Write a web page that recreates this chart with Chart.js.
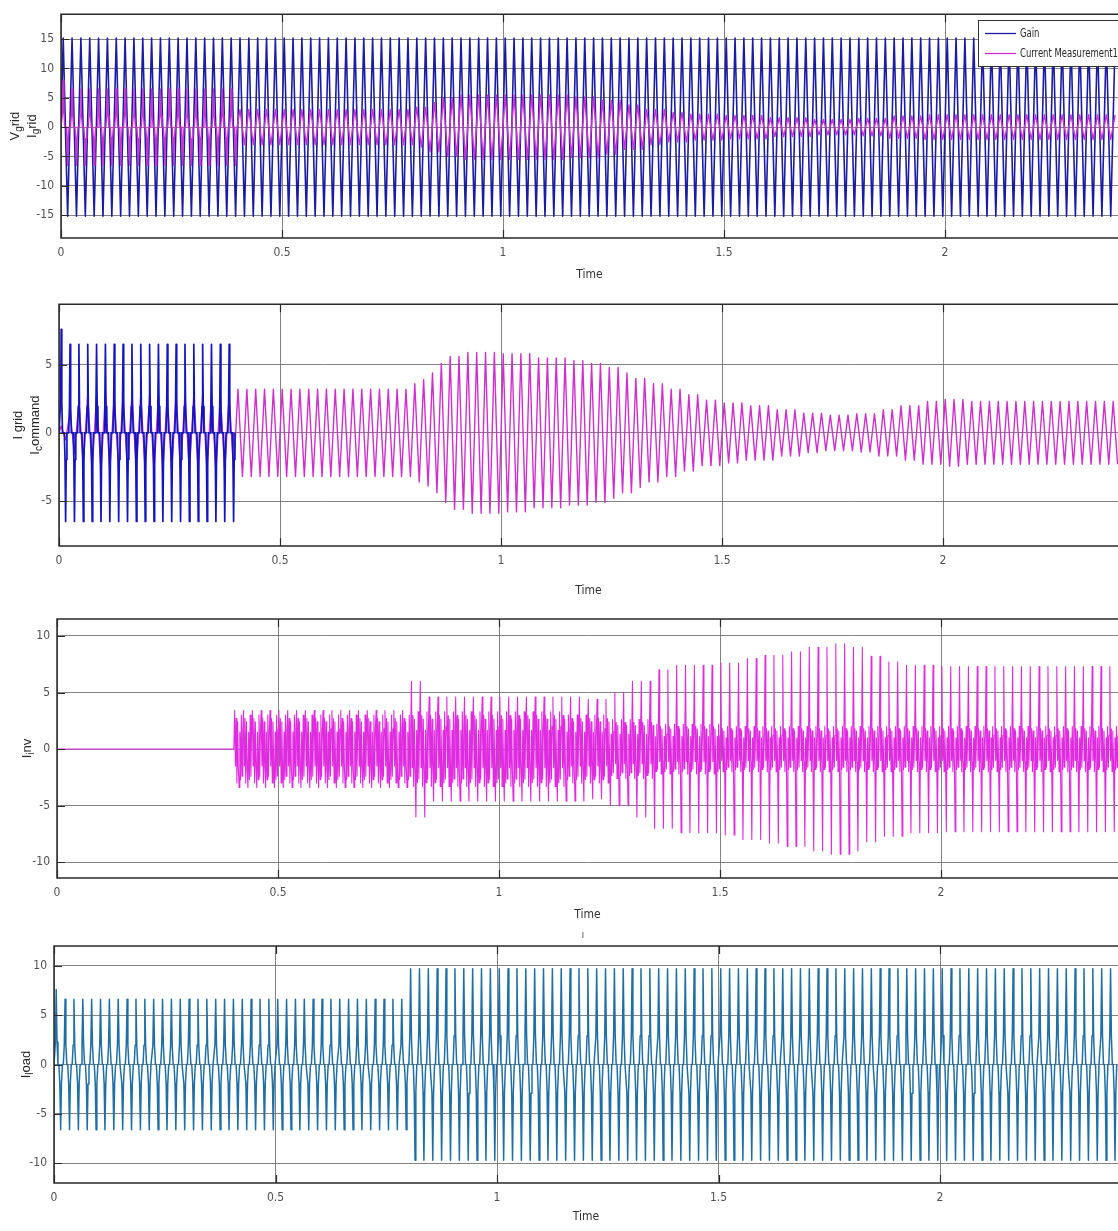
<!DOCTYPE html>
<html>
<head>
<meta charset="utf-8">
<script src="https://cdn.jsdelivr.net/npm/chart.js@4.4.0/dist/chart.umd.min.js"></script>
<style>
    body { margin: 0; background: #fff; }
    #wrap { position: relative; width: 1118px; height: 1231px; overflow: hidden; background: #fff; }
    canvas { position: absolute; left: 0; }
</style>
</head>
<body>
<div id="wrap">
    <canvas id="c1" width="1118" height="290" style="top:0px"></canvas>
    <canvas id="c2" width="1118" height="310" style="top:290px"></canvas>
    <canvas id="c3" width="1118" height="330" style="top:600px"></canvas>
    <canvas id="c4" width="1118" height="301" style="top:930px"></canvas>
</div>
<script>
// values: each peak holds from its time until the next one
const freqGrid = 50;
const tickX = ['0', '0.5', '1', '1.5', '2'];

// panel 1 - Gain / Current Measurement1
const gainT = [0];
const gainPeak = [15.2];
const measT = [0, 0.015, 0.4, 0.8, 0.83, 0.86, 0.9, 1.15, 1.22, 1.27, 1.32, 1.37, 1.42, 1.5, 1.6, 1.7, 1.8, 1.87, 1.95];
const measPeak = [8.0, 6.5, 3.0, 3.4, 4.2, 5.0, 5.5, 5.2, 4.6, 3.8, 3.0, 2.5, 2.2, 2.0, 1.6, 1.3, 1.5, 1.9, 2.1];

// panel 2 - I grid / I command
const cmdT = [0, 0.015];
const cmdPeak = [7.6, 6.5];
const gridT = [0, 0.02, 0.04, 0.06, 0.4, 0.8, 0.82, 0.84, 0.86, 0.88, 0.92, 1.0, 1.07, 1.15, 1.2, 1.24, 1.27, 1.3, 1.33, 1.37, 1.41, 1.45, 1.5, 1.55, 1.62, 1.68, 1.73, 1.8, 1.85, 1.9, 1.95, 2.0, 2.05];
const gridPeak = [0.5, 1.5, 2.3, 2.8, 3.2, 3.6, 3.9, 4.4, 5.1, 5.6, 5.9, 5.8, 5.5, 5.3, 5.1, 4.8, 4.4, 4.0, 3.6, 3.2, 2.8, 2.4, 2.2, 2.0, 1.7, 1.45, 1.3, 1.4, 1.7, 2.0, 2.3, 2.45, 2.3];

// panel 3 - I inv (big peaks and the dense band between them)
const invT = [0.4, 0.8, 0.835, 1.2, 1.25, 1.3, 1.35, 1.4, 1.5, 1.55, 1.6, 1.65, 1.7, 1.75, 1.8, 1.83, 1.87, 1.92, 2.0];
const invPeak = [3.4, 6.0, 4.6, 4.4, 5.0, 6.0, 7.0, 7.4, 7.6, 8.0, 8.3, 8.6, 9.0, 9.3, 9.0, 8.2, 7.7, 7.4, 7.3];
const invBandT = [0.4, 0.8, 1.15, 1.25, 1.35, 1.5];
const invBandPeak = [3.0, 3.3, 3.0, 2.6, 2.2, 2.0];
const invBandPattern = [-0.5, 0.9, -1.0, 0.8, -0.6];

// panel 4 - I load
const loadT = [0, 0.015, 0.8];
const loadPeak = [7.6, 6.6, 9.7];

const half = 0.5 / freqGrid;

function peakAt(ts, vs, t) {
    let v = vs[0];
    for (let i = 0; i < ts.length; i++) {
        if (t >= ts[i]) v = vs[i];
    }
    return v;
}

function sineWave(ts, vs, t0, t1, phase) {
    const pts = [{ x: t0, y: 0 }];
    for (let k = 0; ; k++) {
        const t = t0 + phase + k * half;
        if (t > t1) break;
        const s = k % 2 === 0 ? 1 : -1;
        pts.push({ x: t, y: s * peakAt(ts, vs, t) });
    }
    return pts;
}

// spike shaped pulses with a flat part at zero between them
function pulseWave(ts, vs, t0, t1, phase, width) {
    const pts = [{ x: t0, y: 0 }];
    const w = width * half / 2;
    for (let k = 0; ; k++) {
        const t = t0 + phase + k * half;
        if (t > t1) break;
        const s = k % 2 === 0 ? 1 : -1;
        const p = s * peakAt(ts, vs, t);
        pts.push({ x: t - w, y: 0 }, { x: t - w * 0.45, y: p * 0.3 }, { x: t, y: p },
            { x: t + w * 0.45, y: p * 0.3 }, { x: t + w, y: 0 });
    }
    return pts;
}

function denseWave(ts, vs, bts, bvs, t0, t1, phase) {
    const pts = [{ x: t0, y: 0 }];
    const n = invBandPattern.length;
    for (let k = 0; ; k++) {
        const t = t0 + phase + k * half;
        if (t > t1) break;
        const s = k % 2 === 0 ? 1 : -1;
        pts.push({ x: t, y: s * peakAt(ts, vs, t) });
        for (let j = 0; j < n; j++) {
            const tj = t + (j + 1) / (n + 1) * half;
            pts.push({ x: tj, y: s * invBandPattern[j] * peakAt(bts, bvs, tj) });
        }
    }
    return pts;
}

const tickFont = { family: "'Liberation Sans Narrow', 'DejaVu Sans Condensed', 'Arial Narrow', sans-serif", size: 12 };
const tickColor = '#505050';
const gridColor = 'rgba(100,100,100,0.8)';

const framePlugin = {
    id: 'frame',
    afterDraw(chart) {
        const { ctx, chartArea: a, scales } = chart;
        ctx.save();
        ctx.strokeStyle = '#2a2a2a';
        ctx.lineWidth = 1.5;
        ctx.beginPath();
        ctx.moveTo(chart.width, a.top);
        ctx.lineTo(a.left, a.top);
        ctx.lineTo(a.left, a.bottom);
        ctx.lineTo(chart.width, a.bottom);
        ctx.stroke();
        ctx.lineWidth = 1.2;
        ctx.beginPath();
        scales.y.ticks.forEach(t => {
            const y = Math.round(scales.y.getPixelForValue(t.value)) + 0.5;
            ctx.moveTo(a.left, y);
            ctx.lineTo(a.left + 8, y);
        });
        scales.x.ticks.forEach(t => {
            const x = Math.round(scales.x.getPixelForValue(t.value)) + 0.5;
            ctx.moveTo(x, a.bottom);
            ctx.lineTo(x, a.bottom - 8);
            ctx.moveTo(x, a.top);
            ctx.lineTo(x, a.top + 8);
        });
        ctx.stroke();
        ctx.restore();
    }
};

function yLabelPlugin(lines, xs) {
    return {
        id: 'ylab',
        afterDraw(chart) {
            const ctx = chart.ctx;
            const a = chart.chartArea;
            const cy = (a.top + a.bottom) / 2;
            const big = "13px 'Liberation Sans', Arial, sans-serif";
            const small = "10px 'Liberation Sans', Arial, sans-serif";
            lines.forEach((segs, i) => {
                ctx.save();
                ctx.translate(xs[i], cy);
                ctx.rotate(-Math.PI / 2);
                ctx.textBaseline = 'middle';
                ctx.textAlign = 'left';
                ctx.fillStyle = '#262626';
                let w = 0;
                segs.forEach(sg => {
                    ctx.font = sg[1] ? small : big;
                    w += ctx.measureText(sg[0]).width;
                });
                let x = -w / 2;
                segs.forEach(sg => {
                    ctx.font = sg[1] ? small : big;
                    ctx.fillText(sg[0], x, sg[1] ? 4 : 0);
                    x += ctx.measureText(sg[0]).width;
                });
                ctx.restore();
            });
        }
    };
}

const legendPlugin = {
    id: 'scopeLegend',
    afterDraw(chart) {
        const ctx = chart.ctx;
        const items = [chart.data.datasets[1], chart.data.datasets[0]];
        ctx.save();
        ctx.fillStyle = '#fff';
        ctx.fillRect(978, 20, 160, 46);
        ctx.strokeStyle = '#333';
        ctx.lineWidth = 1;
        ctx.strokeRect(978.5, 20.5, 160, 46);
        ctx.font = "12px 'Liberation Sans Narrow', 'DejaVu Sans Condensed', sans-serif";
        ctx.textBaseline = 'middle';
        // squeeze the text so the long label ends at the picture edge like the scope does
        let widest = 0;
        items.forEach(ds => { widest = Math.max(widest, ctx.measureText(ds.label).width); });
        const squeeze = Math.min(1, 98 / widest);
        items.forEach((ds, i) => {
            const y = 33.5 + i * 20;
            ctx.strokeStyle = ds.borderColor;
            ctx.lineWidth = 1.3;
            ctx.beginPath();
            ctx.moveTo(985, y);
            ctx.lineTo(1016, y);
            ctx.stroke();
            ctx.fillStyle = '#262626';
            ctx.save();
            ctx.translate(1020, y);
            ctx.scale(squeeze, 1);
            ctx.fillText(ds.label, 0, 0);
            ctx.restore();
        });
        ctx.restore();
    }
};

function makeChart(id, cfg) {
    return new Chart(document.getElementById(id), {
        type: 'line',
        data: { datasets: cfg.datasets },
        options: {
            responsive: false,
            animation: false,
            events: [],
            layout: { padding: { top: cfg.top, right: 0, left: 0, bottom: 0 } },
            elements: {
                point: { radius: 0 },
                line: { borderWidth: 1.4, tension: 0, borderJoinStyle: 'round' }
            },
            plugins: { legend: { display: false }, tooltip: { enabled: false } },
            scales: {
                x: {
                    type: 'linear',
                    min: 0,
                    max: cfg.xMax,
                    afterFit: s => { s.height = cfg.xh; },
                    ticks: {
                        stepSize: 0.5, includeBounds: false, autoSkip: false, maxRotation: 0,
                        padding: 8, color: tickColor, font: tickFont,
                        callback: v => tickX[Math.round(v * 2)]
                    },
                    grid: { color: gridColor, drawTicks: false, lineWidth: 1 },
                    border: { display: false },
                    title: {
                        display: true, text: 'Time', color: '#333',
                        font: tickFont, padding: { top: 0, bottom: cfg.tb }
                    }
                },
                y: {
                    min: cfg.yMin,
                    max: cfg.yMax,
                    afterFit: s => { s.width = cfg.left; },
                    ticks: {
                        stepSize: 5, includeBounds: false, padding: 7,
                        color: tickColor, font: tickFont
                    },
                    grid: { color: gridColor, drawTicks: false, lineWidth: 1 },
                    border: { display: false }
                }
            }
        },
        plugins: [framePlugin, yLabelPlugin(cfg.ylab, cfg.ylabX)].concat(cfg.extra || [])
    });
}

// panel 1
const xMax1 = (1118 - 61) / 442;
const measData = pulseWave(measT, measPeak, 0, 0.4, 0.005, 0.7)
    .concat(sineWave(measT, measPeak, 0.4, xMax1, 0.005));
makeChart('c1', {
    top: 4, xh: 52, tb: 8, left: 61, xMax: xMax1, yMin: -18.9, yMax: 19.25,
    ylab: [[['V', 0], ['g', 1], ['rid', 0]], [['I', 0], ['g', 1], ['rid', 0]]],
    ylabX: [15, 32],
    extra: [legendPlugin],
    datasets: [
        { label: 'Current Measurement1', data: measData, borderColor: '#d02fd0', borderWidth: 1.4, order: 0 },
        { label: 'Gain', data: sineWave(gainT, gainPeak, 0, xMax1, 0.005), borderColor: '#1b1ba5', borderWidth: 1.6, order: 1 }
    ]
});

// panel 2
const xMax2 = (1118 - 59) / 442;
makeChart('c2', {
    top: 14, xh: 54, tb: 2, left: 59, xMax: xMax2, yMin: -8.3, yMax: 9.44,
    ylab: [[['I grid', 0]], [['I', 0], ['c', 1], ['ommand', 0]]],
    ylabX: [18, 35],
    datasets: [
        { label: 'I command', data: pulseWave(cmdT, cmdPeak, 0, 0.4, 0.005, 0.6), borderColor: '#1414c0', borderWidth: 1.7, order: 0 },
        { label: 'I grid', data: sineWave(gridT, gridPeak, 0, xMax2, 0.005), borderColor: '#d02fd0', order: 1 }
    ]
});

// panel 3
const xMax3 = (1118 - 57) / 442;
const invData = [{ x: 0, y: 0 }].concat(denseWave(invT, invPeak, invBandT, invBandPeak, 0.4, xMax3, 0.002));
makeChart('c3', {
    top: 19, xh: 52, tb: 8, left: 57, xMax: xMax3, yMin: -11.4, yMax: 11.5,
    ylab: [[['I', 0], ['i', 1], ['nv', 0]]],
    ylabX: [27],
    datasets: [
        { label: 'I inv', data: invData, borderColor: '#e02be0', borderWidth: 1.1 }
    ]
});

// panel 4
const xMax4 = (1118 - 54) / 443;
const markPlugin = {
    id: 'mark',
    afterDraw(chart) {
        const ctx = chart.ctx;
        ctx.save();
        ctx.fillStyle = '#555';
        ctx.font = "10px 'Liberation Sans', sans-serif";
        ctx.textAlign = 'center';
        ctx.textBaseline = 'middle';
        ctx.fillText('ı', 583, 5);
        ctx.restore();
    }
};
makeChart('c4', {
    top: 16, xh: 48, tb: 7, left: 54, xMax: xMax4, yMin: -12, yMax: 12,
    ylab: [[['I', 0], ['l', 1], ['oad', 0]]],
    ylabX: [26],
    extra: [markPlugin],
    datasets: [
        { label: 'I load', data: pulseWave(loadT, loadPeak, 0, xMax4, 0.005, 0.8), borderColor: '#1f6fa6', borderWidth: 1.5 }
    ]
});
</script>
</body>
</html>
